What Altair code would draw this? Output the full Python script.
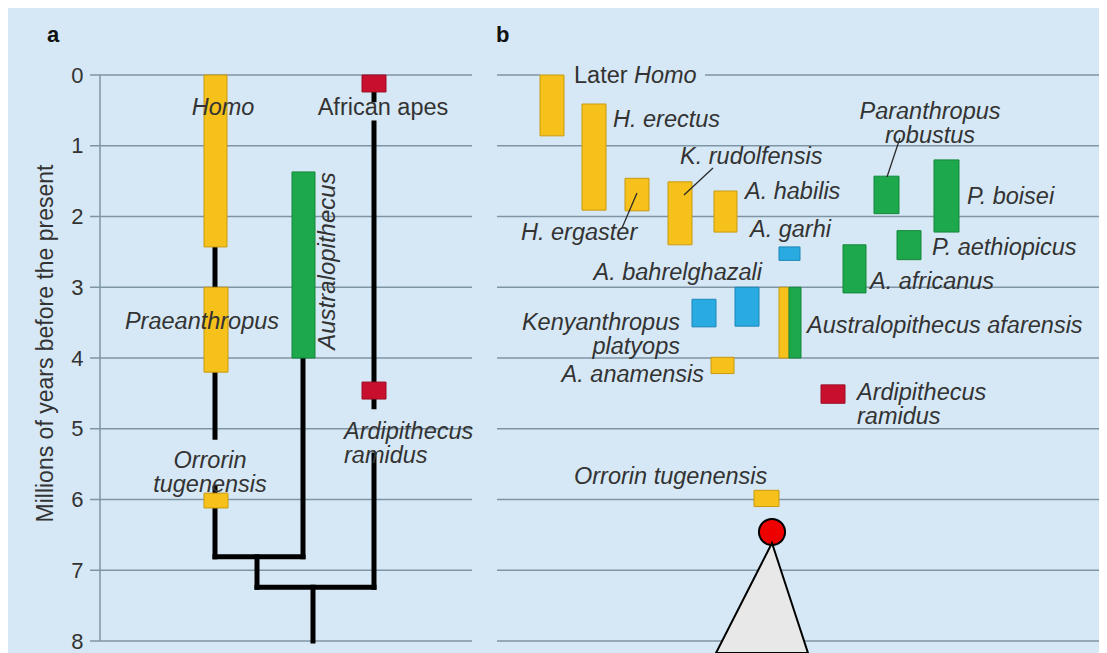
import altair as alt
import pandas as pd

FONT = "Liberation Sans"
TXT = "#333333"
BG = "#d6e8f5"
GRID = "#7f95a5"

# ---------------- data ----------------
years = [0, 1, 2, 3, 4, 5, 6, 7, 8]

# Panel a: lineages (age range in millions of years) and their column
a_names = ["Homo", "Praeanthropus", "Orrorin tugenensis", "Australopithecus",
           "African apes", "Ardipithecus ramidus"]
a_young = [0.0, 3.0, 5.91, 1.37, 0.0, 4.34]
a_old = [2.43, 4.2, 6.12, 4.0, 0.24, 4.58]
a_group = ["Homo", "Homo", "Homo", "Australopithecus", "Ape", "Ape"]
a_left = [204, 204, 204, 292, 362, 362]
a_right = [227, 228, 228, 315, 386, 386]

# Panel a: tree branches (column, age) -> (column, age)
br_x1 = [215, 215, 215, 215, 303, 257, 257, 374, 374, 374, 313]
br_y1 = [2.43, 4.2, 5.84, 6.81, 4.0, 6.81, 7.24, 0.24, 0.68, 5.37, 7.24]
br_x2 = [215, 215, 215, 303, 303, 257, 374, 374, 374, 374, 313]
br_y2 = [3.0, 5.12, 6.81, 6.81, 6.81, 7.24, 7.24, 0.35, 4.69, 7.24, 8.0]

# Panel b: species ranges
b_names = ["Later Homo", "H. erectus", "H. ergaster", "K. rudolfensis", "A. habilis",
           "A. garhi", "A. bahrelghazali", "Kenyanthropus platyops",
           "Australopithecus afarensis", "Australopithecus afarensis",
           "A. anamensis", "Ardipithecus ramidus", "Orrorin tugenensis",
           "A. africanus", "P. aethiopicus", "Paranthropus robustus", "P. boisei"]
b_young = [0.0, 0.41, 1.46, 1.51, 1.64, 2.43, 3.0, 3.17, 3.0, 3.0, 3.99, 4.38, 5.87,
           2.40, 2.20, 1.43, 1.20]
b_old = [0.86, 1.91, 1.92, 2.40, 2.22, 2.62, 3.55, 3.56, 4.0, 4.0, 4.22, 4.64, 6.10,
         3.08, 2.61, 1.96, 2.22]
b_group = ["Homo", "Homo", "Homo", "Homo", "Homo", "Other", "Other", "Other", "Homo",
           "Australopithecus", "Homo", "Ape", "Homo", "Australopithecus",
           "Australopithecus", "Australopithecus", "Australopithecus"]
b_left = [540, 582, 625, 668, 714, 779, 735, 692, 779, 789, 711, 821, 754, 843, 897, 874, 934]
b_right = [564, 606, 649, 692, 737, 800, 759, 716, 789, 801, 734, 845, 779, 866, 921, 899, 959]

# Panel b: leader lines
ld_x1 = [637, 713, 900]
ld_y1 = [1.668, 1.314, 0.890]
ld_x2 = [622, 684, 887]
ld_y2 = [2.163, 1.696, 1.442]

# Labels: text, column, age, alignment, italic
lab_text = ["Homo", "Praeanthropus", "Orrorin\ntugenensis", "African apes",
            "Ardipithecus\n ramidus",
            "Later", "Homo", "H. erectus", "H. ergaster", "K. rudolfensis", "A. habilis",
            "A. garhi", "A. bahrelghazali", "Kenyanthropus\nplatyops",
            "Australopithecus afarensis", "A. anamensis", "Ardipithecus\n ramidus",
            "Orrorin tugenensis", "A. africanus", "P. aethiopicus",
            "Paranthropus\nrobustus", "P. boisei"]
lab_x = [223, 202, 210, 383, 344,
         574, 634, 613, 521, 680, 745,
         750, 762, 680,
         807, 704, 857,
         574, 870, 932,
         930, 967]
lab_y = [0.466, 3.49, 5.46, 0.466, 5.04,
         0.014, 0.014, 0.636, 2.233, 1.159, 1.654,
         2.19, 2.80, 3.50,
         3.548, 4.24, 4.49,
         5.68, 2.926, 2.445,
         0.516, 1.724]
lab_align = ["center", "center", "center", "center", "left",
             "left", "left", "left", "left", "left", "left",
             "left", "right", "right",
             "left", "right", "left",
             "left", "left", "left",
             "center", "left"]
lab_italic = [True, True, True, False, True,
              False, True, True, True, True, True,
              True, True, True,
              True, True, True,
              True, True, True,
              True, True]

# rotated genus label
rot_text = ["Australopithecus"]
rot_x = [328]
rot_y = [2.63]

panel_letters = ["a", "b"]
panel_x = [47, 496]
panel_y = [-0.565, -0.565]

# ancestor marker (red node and grey cone)
node_x = [772]
node_y = [6.459]
cone_y = [6.615, 8.1696]
cone_left = [772, 716]
cone_right = [772, 808]

# ---------------- scales ----------------
XS = alt.Scale(domain=[8, 1099], nice=False, zero=False)
YS = alt.Scale(domain=[-0.947, 8.1696], reverse=True, nice=False, zero=False)

group_dom = ["Homo", "Australopithecus", "Other", "Ape"]
fill_rng = ["#f5c11a", "#1ea84c", "#29abe2", "#c8102e"]
stroke_rng = ["#c99a12", "#13873b", "#1b86b8", "#9a0d24"]

Y_AXIS = alt.Axis(values=years, domain=False, ticks=False, grid=False, offset=-92,
                  labelPadding=17, labelFontSize=22, labelColor=TXT, labelFont=FONT,
                  title="Millions of years before the present", titleFont=FONT,
                  titleFontSize=23, titleFontWeight="normal", titleColor=TXT,
                  titleX=-55, titleY=335, titleAngle=270, titleAlign="center",
                  titleBaseline="middle", labelFlush=False)


def X(f):
    return alt.X(f, type="quantitative", scale=XS, axis=None)


def Y(f):
    return alt.Y(f, type="quantitative", scale=YS, axis=Y_AXIS,
                 title="Millions of years before the present")


def X2(f):
    return alt.X2(f)


def Y2(f):
    return alt.Y2(f)


# gridlines
grid_rows = []
for v in years:
    grid_rows.append({"y": v, "x1": 90, "x2": 472})
    if v == 0:
        grid_rows.append({"y": v, "x1": 497, "x2": 540})
        grid_rows.append({"y": v, "x1": 705, "x2": 1099})
    else:
        grid_rows.append({"y": v, "x1": 497, "x2": 1099})
grid_df = pd.DataFrame(grid_rows)

grid = alt.Chart(grid_df).mark_rule(color=GRID, strokeWidth=1.5).encode(
    x=X("x1"), x2=X2("x2"), y=Y("y"))

axis_line = alt.Chart(pd.DataFrame({"x": [100], "y1": [years[0]], "y2": [years[-1]]})).mark_rule(
    color=GRID, strokeWidth=1.5).encode(x=X("x"), y=Y("y1"), y2=Y2("y2"))

branch_df = pd.DataFrame({"x1": br_x1, "y1": br_y1, "x2": br_x2, "y2": br_y2})
branches = alt.Chart(branch_df).mark_rule(color="#000000", strokeWidth=5, strokeCap="square").encode(
    x=X("x1"), y=Y("y1"), x2=X2("x2"), y2=Y2("y2"))

color_enc = alt.Color("group:N", scale=alt.Scale(domain=group_dom, range=fill_rng), legend=None)
stroke_enc = alt.Stroke("group:N", scale=alt.Scale(domain=group_dom, range=stroke_rng), legend=None)

a_df = pd.DataFrame({"name": a_names, "young": a_young, "old": a_old, "group": a_group,
                     "left": a_left, "right": a_right})
a_bars = alt.Chart(a_df).mark_rect(strokeWidth=1).encode(
    x=X("left"), x2=X2("right"), y=Y("young"), y2=Y2("old"), color=color_enc, stroke=stroke_enc)

b_df = pd.DataFrame({"name": b_names, "young": b_young, "old": b_old, "group": b_group,
                     "left": b_left, "right": b_right})
b_bars = alt.Chart(b_df).mark_rect(strokeWidth=1).encode(
    x=X("left"), x2=X2("right"), y=Y("young"), y2=Y2("old"), color=color_enc, stroke=stroke_enc)

lead_df = pd.DataFrame({"x1": ld_x1, "y1": ld_y1, "x2": ld_x2, "y2": ld_y2})
leaders = alt.Chart(lead_df).mark_rule(color="#2a2a2a", strokeWidth=1.3).encode(
    x=X("x1"), y=Y("y1"), x2=X2("x2"), y2=Y2("y2"))

lab_df = pd.DataFrame({"text": lab_text, "x": lab_x, "y": lab_y, "align": lab_align,
                       "italic": lab_italic})

text_layers = []
for al in ["left", "center", "right"]:
    for it in [True, False]:
        sub = lab_df[(lab_df["align"] == al) & (lab_df["italic"] == it)]
        if len(sub) == 0:
            continue
        text_layers.append(
            alt.Chart(sub).mark_text(align=al, baseline="middle", font=FONT, fontSize=23.5,
                                     lineBreak="\n", lineHeight=24,
                                     fontStyle="italic" if it else "normal", color=TXT).encode(
                x=X("x"), y=Y("y"), text="text:N"))

rot_layer = alt.Chart(pd.DataFrame({"text": rot_text, "x": rot_x, "y": rot_y})).mark_text(
    align="center", baseline="middle", angle=270, font=FONT, fontSize=24, fontStyle="italic",
    color=TXT).encode(x=X("x"), y=Y("y"), text="text:N")

letters = alt.Chart(pd.DataFrame({"text": panel_letters, "x": panel_x, "y": panel_y})).mark_text(
    align="left", baseline="middle", font=FONT, fontSize=22, fontWeight="bold", color="#111111").encode(
    x=X("x"), y=Y("y"), text="text:N")

node = alt.Chart(pd.DataFrame({"x": node_x, "y": node_y})).mark_circle(
    size=680, opacity=1, color="#ee0000", stroke="#000000", strokeWidth=2).encode(
    x=X("x"), y=Y("y"))

cone = alt.Chart(pd.DataFrame({"y": cone_y, "xl": cone_left, "xr": cone_right})).mark_area(
    orient="horizontal", color="#e8e8e8", stroke="#000000", strokeWidth=2, opacity=1,
    clip=True).encode(x=X("xl"), x2=X2("xr"), y=Y("y"))

chart = alt.layer(
    grid, axis_line, branches, a_bars, b_bars, leaders, *text_layers, rot_layer, letters,
    node, cone,
).properties(
    width=1091, height=645,
    autosize=alt.AutoSizeParams(type="none"),
    padding=0,
    background=BG,
).configure_view(stroke=None, fill=BG)

chart.save("out.html", embed_options={"renderer": "svg", "actions": False})
